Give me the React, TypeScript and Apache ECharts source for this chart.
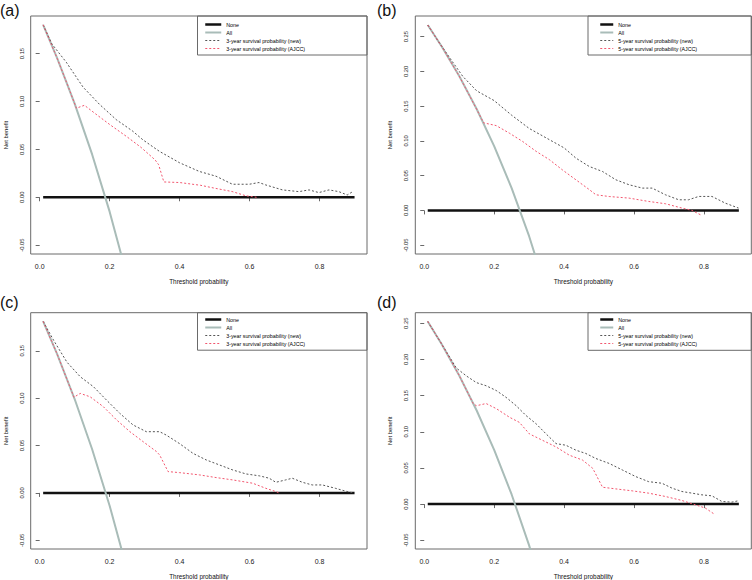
import React, { useEffect, useRef } from 'react';
import * as echarts from 'echarts';

// ---------- data ----------
const xTicks = [0, 0.2, 0.4, 0.6, 0.8];
const yTicks3 = [-0.05, 0, 0.05, 0.1, 0.15];
const yTicks5 = [-0.05, 0, 0.05, 0.1, 0.15, 0.2, 0.25];
const names3 = ['None', 'All', '3-year survival probability (new)', '3-year survival probability (AJCC)'];
const names5 = ['None', 'All', '5-year survival probability (new)', '5-year survival probability (AJCC)'];
const panelLabels = ['(a)', '(b)', '(c)', '(d)'];
const xLabel = 'Threshold probability';
const yLabel = 'Net benefit';

// panel (a)
const noneA = [[0.01, 0], [0.9, 0]];
const allA = [[0.01, 0.18], [0.05, 0.1453], [0.1, 0.0978], [0.15, 0.0447], [0.2, -0.015], [0.25, -0.0827]];
const newA = [[0.01, 0.18], [0.035, 0.16], [0.076, 0.141], [0.124, 0.115], [0.171, 0.097], [0.219, 0.081], [0.266, 0.069], [0.295, 0.06], [0.342, 0.048], [0.4, 0.036], [0.456, 0.027], [0.504, 0.022], [0.551, 0.0136], [0.599, 0.0136], [0.627, 0.0154], [0.646, 0.0129], [0.694, 0.0077], [0.741, 0.0059], [0.77, 0.0077], [0.798, 0.0049], [0.827, 0.0077], [0.855, 0.0059], [0.879, 0.0024], [0.895, 0.0059]];
const ajccA = [[0.01, 0.18], [0.05, 0.145], [0.08, 0.117], [0.105, 0.093], [0.128, 0.096], [0.16, 0.087], [0.2, 0.076], [0.25, 0.063], [0.29, 0.052], [0.33, 0.039], [0.34, 0.034], [0.355, 0.016], [0.4, 0.0154], [0.46, 0.0125], [0.5, 0.0095], [0.55, 0.006], [0.59, 0.0015], [0.62, 0.0]];

// panel (b)
const noneB = [[0.01, 0], [0.9, 0]];
const allB = [[0.01, 0.2667], [0.05, 0.2358], [0.1, 0.1933], [0.15, 0.1459], [0.2, 0.0925], [0.25, 0.032], [0.3, -0.0371], [0.35, -0.117]];
const newB = [[0.01, 0.2667], [0.045, 0.2398], [0.075, 0.218], [0.11, 0.193], [0.15, 0.172], [0.2, 0.158], [0.25, 0.137], [0.3, 0.118], [0.35, 0.104], [0.4, 0.09], [0.434, 0.0752], [0.472, 0.0632], [0.51, 0.056], [0.548, 0.0441], [0.586, 0.0369], [0.624, 0.0321], [0.652, 0.0321], [0.69, 0.0225], [0.728, 0.0153], [0.756, 0.0153], [0.785, 0.0201], [0.823, 0.0201], [0.861, 0.0105], [0.899, 0.0034]];
const ajccB = [[0.01, 0.2667], [0.05, 0.2358], [0.1, 0.1933], [0.14, 0.155], [0.17, 0.126], [0.206, 0.122], [0.244, 0.111], [0.282, 0.099], [0.32, 0.085], [0.358, 0.073], [0.396, 0.058], [0.434, 0.044], [0.472, 0.03], [0.491, 0.0225], [0.529, 0.02], [0.586, 0.0177], [0.642, 0.0129], [0.69, 0.0096], [0.737, 0.0034], [0.766, 0], [0.79, -0.0062]];

// panel (c)
const noneC = [[0.01, 0], [0.9, 0]];
const allC = [[0.01, 0.181], [0.05, 0.1465], [0.1, 0.0991], [0.15, 0.0461], [0.2, -0.0135], [0.25, -0.0811]];
const newC = [[0.01, 0.181], [0.04, 0.161], [0.078, 0.138], [0.116, 0.1226], [0.154, 0.112], [0.191, 0.098], [0.229, 0.084], [0.267, 0.0717], [0.305, 0.0646], [0.343, 0.0646], [0.362, 0.061], [0.4, 0.052], [0.438, 0.0418], [0.476, 0.0348], [0.514, 0.0295], [0.552, 0.0242], [0.59, 0.02], [0.628, 0.018], [0.656, 0.0155], [0.675, 0.0112], [0.703, 0.0137], [0.722, 0.0155], [0.751, 0.0112], [0.779, 0.0084], [0.808, 0.0084], [0.845, 0.0049], [0.883, 0.001], [0.898, 0]];
const ajccC = [[0.01, 0.181], [0.05, 0.1465], [0.098, 0.101], [0.116, 0.105], [0.144, 0.1015], [0.182, 0.091], [0.22, 0.077], [0.258, 0.0646], [0.296, 0.054], [0.334, 0.0436], [0.343, 0.04], [0.367, 0.0225], [0.4, 0.0214], [0.457, 0.019], [0.504, 0.0162], [0.552, 0.0137], [0.609, 0.0102], [0.646, 0.0049], [0.675, 0.0014], [0.684, 0]];

// panel (d)
const noneD = [[0.01, 0], [0.9, 0]];
const allD = [[0.01, 0.2525], [0.05, 0.2211], [0.1, 0.1778], [0.15, 0.1294], [0.2, 0.075], [0.25, 0.0133], [0.3, -0.0571], [0.35, -0.1385]];
const newD = [[0.01, 0.2525], [0.05, 0.2211], [0.092, 0.188], [0.121, 0.177], [0.149, 0.168], [0.177, 0.1636], [0.206, 0.157], [0.234, 0.1476], [0.263, 0.136], [0.291, 0.1225], [0.32, 0.111], [0.348, 0.0973], [0.377, 0.0836], [0.405, 0.0814], [0.434, 0.0745], [0.462, 0.07], [0.491, 0.063], [0.529, 0.0562], [0.567, 0.0471], [0.605, 0.038], [0.642, 0.031], [0.68, 0.0288], [0.709, 0.022], [0.737, 0.0174], [0.766, 0.0151], [0.794, 0.0128], [0.823, 0.0114], [0.851, 0.0037], [0.88, 0.0027], [0.899, 0.0046]];
const ajccD = [[0.01, 0.2525], [0.05, 0.2211], [0.1, 0.1778], [0.14, 0.139], [0.149, 0.136], [0.177, 0.139], [0.206, 0.132], [0.244, 0.12], [0.272, 0.113], [0.301, 0.097], [0.339, 0.088], [0.377, 0.079], [0.415, 0.0676], [0.453, 0.0608], [0.482, 0.0494], [0.51, 0.0233], [0.548, 0.021], [0.595, 0.0183], [0.642, 0.0151], [0.69, 0.0105], [0.737, 0.005], [0.775, -0.0009], [0.804, -0.0055], [0.828, -0.0133]];

// ---------- layout ----------
const FONT = "'Liberation Sans', Arial, Helvetica, sans-serif";
const X_RANGE = [-0.0256, 0.9356];

const panels = [
  { grid: { left: 30.7, top: 16, width: 336.3, height: 238 }, y: [-0.0592, 0.1892], yTicks: yTicks3, names: names3,
    data: [noneA, allA, newA, ajccA], label: [0, 10], legend: [204, 21, 16], box: [197.5, 16, 169.5, 39] },
  { grid: { left: 415.3, top: 16, width: 336, height: 238 }, y: [-0.0627, 0.2797], yTicks: yTicks5, names: names5,
    data: [noneB, allB, newB, ajccB], label: [377, 10], legend: [599, 21, 13], box: [588, 16, 163.3, 39] },
  { grid: { left: 30.7, top: 312.7, width: 336.3, height: 236.6 }, y: [-0.0592, 0.1902], yTicks: yTicks3, names: names3,
    data: [noneC, allC, newC, ajccC], label: [0, 302], legend: [204, 316, 16], box: [197.5, 312.7, 169.5, 37.5] },
  { grid: { left: 415.3, top: 312.7, width: 336, height: 236.6 }, y: [-0.0621, 0.2646], yTicks: yTicks5, names: names5,
    data: [noneD, allD, newD, ajccD], label: [377, 302], legend: [599, 316, 13], box: [588, 312.7, 163.3, 37.6] },
];

const seriesStyles = [
  { color: '#111111', width: 2.5, type: 'solid' },
  { color: '#a9bcb8', width: 2, type: 'solid' },
  { color: '#555555', width: 1, type: [2, 2] },
  { color: '#f2566e', width: 1, type: [2, 2] },
];

const FRAME = '#6a6a6a';

function buildOption() {
  const grid: any[] = [];
  const xAxis: any[] = [];
  const yAxis: any[] = [];
  const series: any[] = [];
  const legend: any[] = [];
  const graphic: any[] = [];

  panels.forEach((p, i) => {
    grid.push({ ...p.grid, show: true, borderColor: FRAME, borderWidth: 1, backgroundColor: 'transparent', containLabel: false });
    xAxis.push({
      type: 'value', gridIndex: i, min: X_RANGE[0], max: X_RANGE[1],
      axisLine: { show: false },
      axisTick: { show: true, length: 4, lineStyle: { color: FRAME }, customValues: xTicks },
      axisLabel: { show: true, margin: 9, fontSize: 7, color: '#222', fontFamily: FONT, customValues: xTicks,
        formatter: (v: number) => v.toFixed(1) },
      splitLine: { show: false },
      name: xLabel, nameLocation: 'middle', nameGap: 24,
      nameTextStyle: { fontSize: 6.4, color: '#111', fontFamily: FONT },
    });
    yAxis.push({
      type: 'value', gridIndex: i, min: p.y[0], max: p.y[1],
      axisLine: { show: false },
      axisTick: { show: true, length: 4, lineStyle: { color: FRAME }, customValues: p.yTicks },
      axisLabel: { show: true, margin: 6, rotate: 90, fontSize: 5.8, color: '#222', fontFamily: FONT, customValues: p.yTicks,
        formatter: (v: number) => v.toFixed(2) },
      splitLine: { show: false },
      name: yLabel, nameLocation: 'middle', nameGap: 22, nameRotate: 90,
      nameTextStyle: { fontSize: 5.9, color: '#111', fontFamily: FONT },
    });
    p.data.forEach((d, k) => {
      const st = seriesStyles[k];
      series.push({
        type: 'line', name: p.names[k], xAxisIndex: i, yAxisIndex: i, data: d,
        symbol: 'none', showSymbol: false, silent: true, clip: true,
        lineStyle: { color: st.color, width: st.width, type: st.type },
        itemStyle: { color: st.color },
        z: 2 + k,
      });
    });
    legend.push({
      orient: 'vertical', left: p.legend[0], top: p.legend[1], padding: 0,
      data: p.names, itemWidth: p.legend[2], itemHeight: 7, itemGap: 1, selectedMode: false,
      itemStyle: { opacity: 0, borderWidth: 0 },
      lineStyle: { width: 'inherit', type: 'inherit', color: 'inherit' },
      textStyle: { fontSize: 5.3, lineHeight: 7, color: '#000', fontFamily: FONT },
    });
    graphic.push({
      type: 'rect', silent: true, z: 1,
      shape: { x: p.box[0], y: p.box[1], width: p.box[2], height: p.box[3] },
      style: { fill: 'transparent', stroke: FRAME, lineWidth: 1 },
    });
    graphic.push({
      type: 'text', silent: true, x: p.label[0], y: p.label[1],
      style: { text: panelLabels[i], fontSize: 16, fontFamily: FONT, fill: '#111', verticalAlign: 'middle' },
    });
  });

  return { animation: false, backgroundColor: '#ffffff', grid, xAxis, yAxis, series, legend, graphic };
}

export default function App() {
  const ref = useRef<HTMLDivElement>(null);
  useEffect(() => {
    if (!ref.current) return;
    const chart = echarts.init(ref.current, null, { renderer: 'svg' });
    chart.setOption(buildOption() as any);
    return () => chart.dispose();
  }, []);
  return <div ref={ref} style={{ position: 'fixed', left: 0, top: 0, width: 752, height: 580, background: '#fff' }} />;
}
